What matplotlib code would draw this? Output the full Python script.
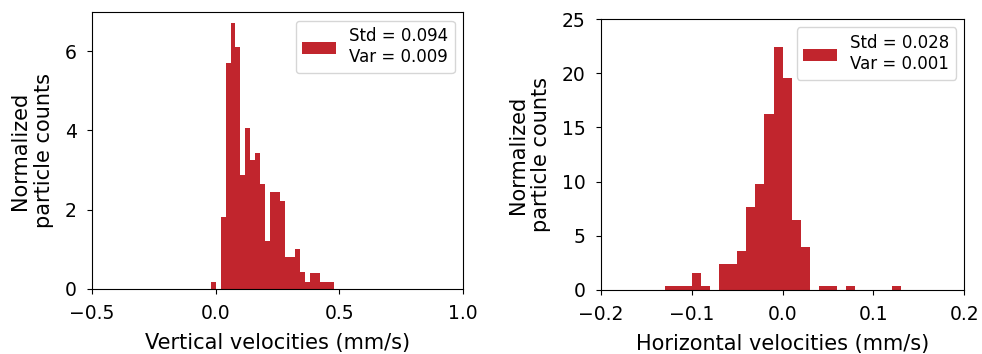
import numpy as np
import matplotlib
matplotlib.use("Agg")
import matplotlib.pyplot as plt

# vertical velocities: bins of 0.02 mm/s, normalized heights
vert_edges = np.round(np.arange(-0.02, 0.481, 0.02), 3)
vert_heights = [0.18, 0.0, 1.80, 5.71, 6.72, 6.11, 2.86, 4.07, 3.24, 3.44,
                2.65, 1.21, 2.43, 2.43, 2.22, 0.79, 0.79, 0.99, 0.41, 0.18,
                0.39, 0.39, 0.18, 0.18, 0.18]
vert_label = "Std = 0.094\nVar = 0.009"

# horizontal velocities: bins of 0.01 mm/s
horiz_edges = np.round(np.arange(-0.13, 0.131, 0.01), 3)
horiz_heights = [0.37, 0.37, 0.37, 1.54, 0.37, 0.0, 2.37, 2.37, 3.63, 7.69,
                 9.78, 16.27, 22.39, 19.53, 6.46, 4.0, 0.0, 0.37, 0.37, 0.0,
                 0.37, 0.0, 0.0, 0.0, 0.0, 0.37]
horiz_label = "Std = 0.028\nVar = 0.001"

color = "#c1252d"

fig = plt.figure(figsize=(9.82, 3.54), dpi=100)
ax1 = fig.add_axes([0.0937, 0.1845, 0.3778, 0.7805])
ax2 = fig.add_axes([0.612, 0.181, 0.370, 0.765])

ax1.stairs(vert_heights, vert_edges, fill=True, color=color, label=vert_label)
ax1.set_xlim(-0.5, 1.0)
ax1.set_xticks([-0.5, 0.0, 0.5, 1.0])
ax1.set_yticks([0, 2, 4, 6])
ax1.set_ylim(0, 6.98)
ax1.set_xlabel("Vertical velocities (mm/s)", fontsize=15, labelpad=7)
ax1.set_ylabel("Normalized\nparticle counts", fontsize=15, labelpad=8)

ax2.stairs(horiz_heights, horiz_edges, fill=True, color=color, label=horiz_label)
ax2.set_xlim(-0.2, 0.2)
ax2.set_xticks([-0.2, -0.1, 0.0, 0.1, 0.2])
ax2.set_ylim(0, 25)
ax2.set_xlabel("Horizontal velocities (mm/s)", fontsize=15, labelpad=7)
ax2.set_ylabel("Normalized\nparticle counts", fontsize=15, labelpad=8)

for ax in (ax1, ax2):
    ax.tick_params(labelsize=13.5, pad=7.5)
    ax.legend(loc="upper right", fontsize=12)

fig.savefig("out.png", dpi=100)
